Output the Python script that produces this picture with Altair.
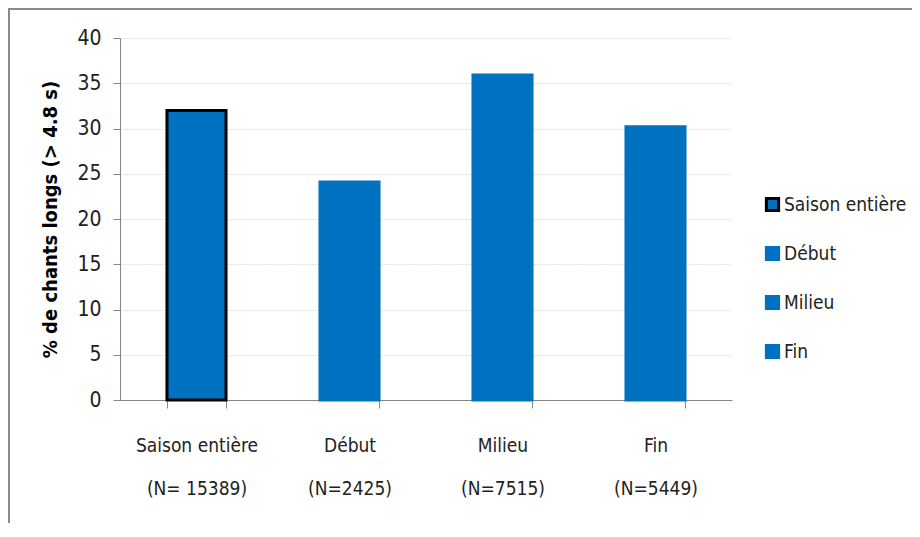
import altair as alt
import pandas as pd

categories = ["Saison entière", "Début", "Milieu", "Fin"]
n_labels = ["(N= 15389)", "(N=2425)", "(N=7515)", "(N=5449)"]
values = [32.0, 24.1, 35.9, 30.2]

BLUE = "#0070C0"
FONT = "DejaVu Sans Condensed, sans-serif"

df = pd.DataFrame({
    "cat": categories,
    "xlab": [f"{c}|{n}" for c, n in zip(categories, n_labels)],
    "val": values,
})

bars = alt.Chart(df).mark_bar(strokeWidth=3).encode(
    x=alt.X("xlab:N", sort=None, title=None,
            scale=alt.Scale(paddingInner=0.614, paddingOuter=0.307),
            axis=alt.Axis(labelExpr="split(datum.label, '|')", labelAngle=0,
                          labelFontSize=19, labelLineHeight=43, labelPadding=28,
                          tickBand="extent", tickSize=8, grid=False,
                          domainColor="#868686", tickColor="#868686",
                          labelColor="#222222", labelFont=FONT)),
    y=alt.Y("val:Q", title="% de chants longs (> 4.8 s)",
            scale=alt.Scale(domain=[0, 40], nice=False),
            axis=alt.Axis(values=list(range(0, 41, 5)), labelFontSize=21,
                          labelFont=FONT, labelColor="#222222", labelPadding=12,
                          tickSize=7, domainColor="#868686", tickColor="#868686",
                          gridColor="#c4c4c4", gridDash=[1, 2], gridWidth=1,
                          titleFont=FONT, titleFontSize=20, titleFontWeight="bold",
                          titleColor="#000000", titlePadding=16)),
    color=alt.Color("cat:N", title=None,
                    scale=alt.Scale(domain=categories, range=[BLUE] * 4),
                    legend=alt.Legend(title=None)),
    stroke=alt.Stroke("cat:N", title=None,
                      scale=alt.Scale(domain=categories, range=["#000000", BLUE, BLUE, BLUE]),
                      legend=alt.Legend(title=None)),
)

frame = alt.Chart(df).mark_rect(fill=None, stroke="#8a8a8a", strokeWidth=2, clip=False).encode(
    x=alt.value(-111), x2=alt.value(900), y=alt.value(-29), y2=alt.value(700)
)

chart = alt.layer(frame, bars).properties(
    width=612, height=362,
    autosize=alt.AutoSizeParams(type="none"),
    padding={"left": 112, "top": 30, "right": 180, "bottom": 123},
).configure_view(stroke=None).configure_legend(
    orient="none", legendX=643, legendY=157, symbolType="square", symbolSize=150,
    symbolStrokeWidth=3, labelFontSize=19, labelFont=FONT, labelColor="#222222",
    rowPadding=24, labelOffset=2, padding=0,
)

chart.save("out.html", embed_options={"renderer": "svg", "actions": False})
